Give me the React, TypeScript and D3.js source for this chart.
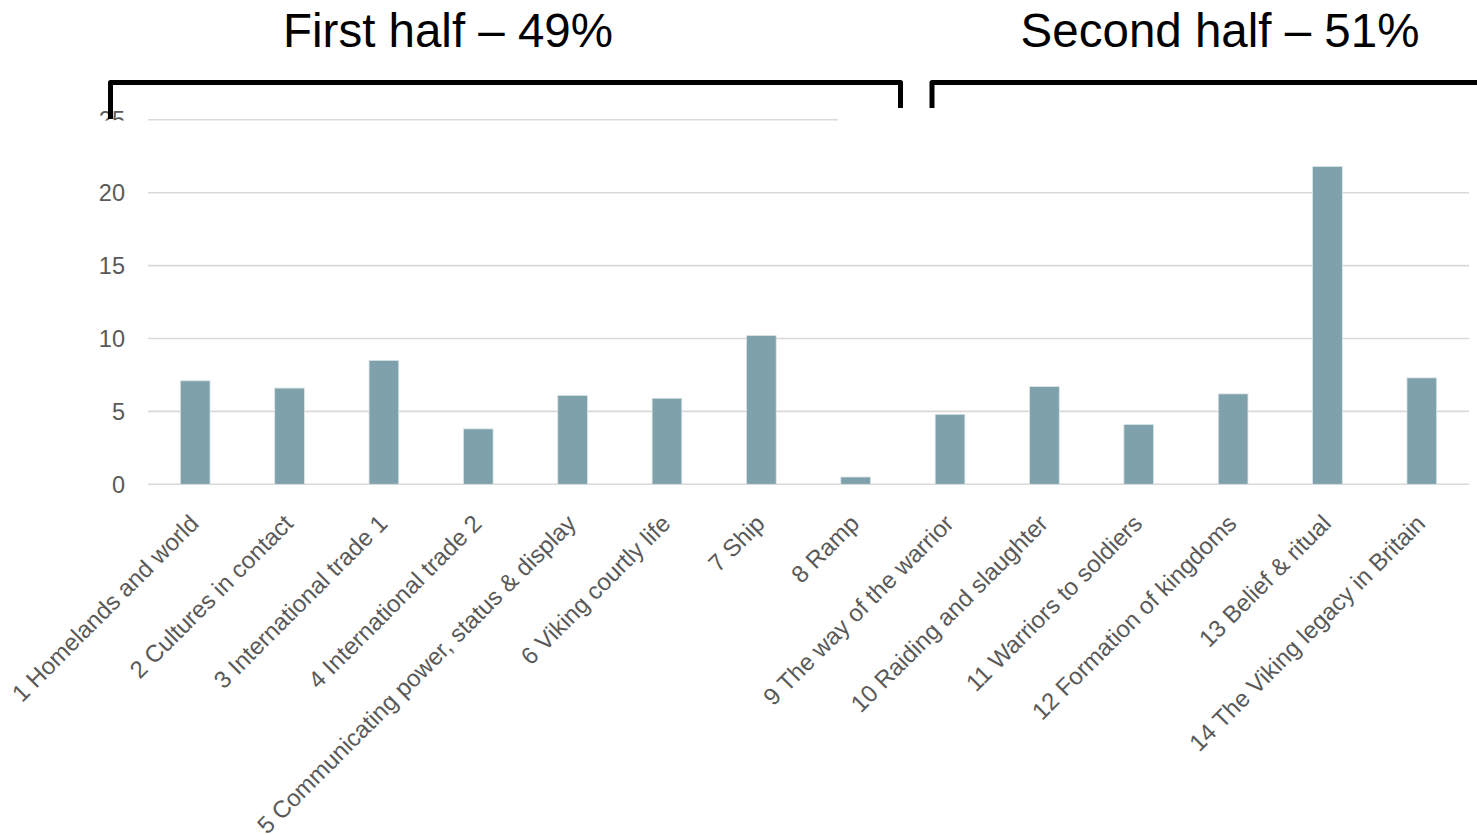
import React from "react";
import * as d3 from "d3";

const categories = [
  "1 Homelands and world",
  "2 Cultures in contact",
  "3 International trade 1",
  "4 International trade 2",
  "5 Communicating power, status & display",
  "6 Viking courtly life",
  "7 Ship",
  "8 Ramp",
  "9 The way of the warrior",
  "10 Raiding and slaughter",
  "11 Warriors to soldiers",
  "12 Formation of kingdoms",
  "13 Belief & ritual",
  "14 The Viking legacy in Britain",
];
const values = [7.1, 6.6, 8.5, 3.8, 6.1, 5.9, 10.2, 0.5, 4.8, 6.7, 4.1, 6.2, 21.8, 7.3];
const yTicks = [0, 5, 10, 15, 20, 25];
const halfLabels = ["First half – 49%", "Second half – 51%"];

const W = 1477;
const H = 835;
const FONT = "'Liberation Sans', Arial, Helvetica, sans-serif";

export default function App() {
  const x = d3.scaleBand<string>().domain(categories).range([148, 1469]).padding(0);
  const y = d3.scaleLinear().domain([0, 25]).range([484.3, 119.8]);
  const bw = x.bandwidth() * 0.315;

  return (
    <div style={{ position: "absolute", left: 0, top: 0 }}>
      <svg width={W} height={H} style={{ display: "block", background: "#fff" }}>
        {/* gridlines */}
        {yTicks.map((t) => (
          <line
            key={"g" + t}
            x1={148}
            x2={1469}
            y1={y(t)}
            y2={y(t)}
            stroke="#d9d9d9"
            strokeWidth={1.6}
          />
        ))}
        {/* y tick labels */}
        {yTicks.map((t) => (
          <text
            key={"t" + t}
            x={125}
            y={y(t)}
            dy="0.36em"
            textAnchor="end"
            fontFamily={FONT}
            fontSize={23.5}
            fill="#595959"
          >
            {t}
          </text>
        ))}
        {/* bars */}
        {categories.map((c, i) => {
          const cx = (x(c) as number) + x.bandwidth() / 2;
          return (
            <rect
              key={"b" + i}
              x={cx - bw / 2}
              y={y(values[i])}
              width={bw}
              height={y(0) - y(values[i])}
              fill="#7FA1AB"
              stroke="#dbe5e8"
              strokeWidth={0.8}
            />
          );
        })}
        {/* x labels */}
        {categories.map((c, i) => {
          const cx = (x(c) as number) + x.bandwidth() / 2;
          return (
            <text
              key={"l" + i}
              transform={`translate(${cx + 5},${525}) rotate(-45)`}
              textAnchor="end"
              fontFamily={FONT}
              fontSize={24}
              fill="#595959"
            >
              {c}
            </text>
          );
        })}
        {/* overlapping white shapes from the slide */}
        <rect x={60} y={120.5} width={86} height={20} fill="#fff" />
        <rect x={838} y={110} width={W - 838} height={16} fill="#fff" />
        {/* brackets */}
        <path
          d="M110.5,119 L110.5,82.5 L900.5,82.5 L900.5,108"
          fill="none"
          stroke="#000"
          strokeWidth={5}
          strokeLinejoin="round"
        />
        <path
          d={`M932,108 L932,82.5 L${W + 5},82.5`}
          fill="none"
          stroke="#000"
          strokeWidth={5}
          strokeLinejoin="round"
        />
        {/* half titles */}
        <text
          x={448}
          y={47}
          textAnchor="middle"
          fontFamily={FONT}
          fontSize={47.5}
          fill="#000"
        >
          {halfLabels[0]}
        </text>
        <text
          x={1220}
          y={47}
          textAnchor="middle"
          fontFamily={FONT}
          fontSize={47.5}
          fill="#000"
        >
          {halfLabels[1]}
        </text>
      </svg>
    </div>
  );
}
